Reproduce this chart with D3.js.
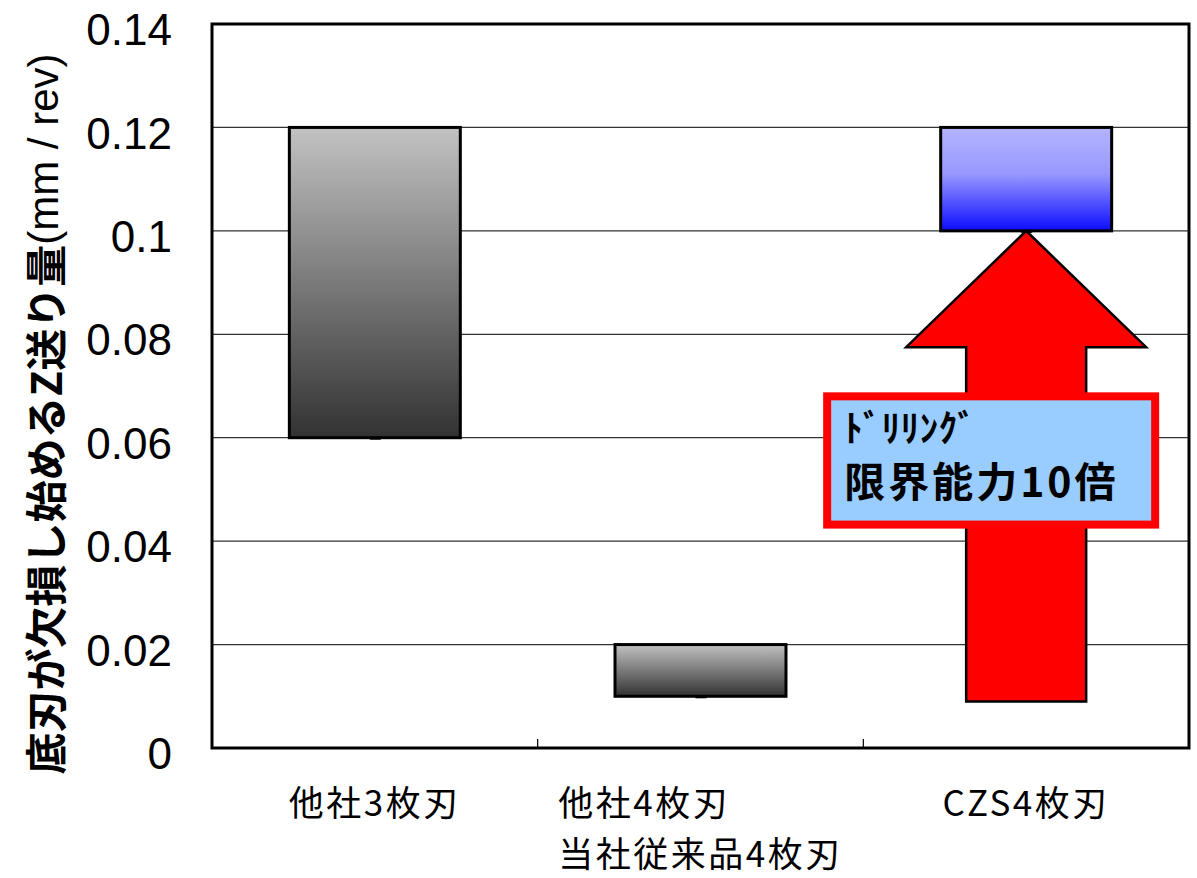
<!DOCTYPE html>
<html>
<head>
<meta charset="utf-8">
<script src="https://cdn.jsdelivr.net/npm/d3@7"></script>
<style>
    body { margin: 0; background: #fff; }
    svg  { display: block; }
</style>
</head>
<body>
<svg id="chart" width="1197" height="878"></svg>
<script>
/* **************************************************************** *
 *   Data
 * **************************************************************** */
const categories    = ['他社3枚刃', '他社4枚刃', 'CZS4枚刃'];
const categoryLines = [['他社3枚刃'], ['他社4枚刃', '当社従来品4枚刃'], ['CZS4枚刃']];
const lowValues     = [0.06, 0.01, 0.10];
const highValues    = [0.12, 0.02, 0.12];
const yTicks        = [0, 0.02, 0.04, 0.06, 0.08, 0.10, 0.12, 0.14];
const yTitleMain    = '底刃が欠損し始めるZ送り量';
const yTitleUnit    = '(mm / rev)';

// arrow: bottom, head base, tip (values on the y axis)
const arrowValues   = [0.009, 0.0775, 0.10];
const calloutLines  = ['ﾄﾞﾘﾘﾝｸﾞ', '限界能力10倍'];
const calloutRange  = [0.068, 0.0432];

/* **************************************************************** *
 *   Scale
 * **************************************************************** */
const frame = { left: 212, right: 1189, top: 24, bottom: 748 };

const x = d3.scaleBand()
    .domain(categories)
    .range([frame.left, frame.right])
    .padding(0);

const y = d3.scaleLinear()
    .domain([0, 0.14])
    .range([frame.bottom, frame.top]);

const svg = d3.select('#chart');
const defs = svg.append('defs');

let gradient = (id, stops) => {
    let g = defs.append('linearGradient')
        .attr('id', id)
        .attr('x1', 0).attr('y1', 0)
        .attr('x2', 0).attr('y2', 1);
    g.selectAll('stop')
        .data(stops)
        .enter()
        .append('stop')
        .attr('offset', (d) => d[0])
        .attr('stop-color', (d) => d[1]);
};
gradient('gray', [[0, '#c2c2c2'], [1, '#323232']]);
gradient('blue', [[0, '#b4b4ff'], [0.45, '#9898ff'], [1, '#0c0cff']]);
const fills = ['url(#gray)', 'url(#gray)', 'url(#blue)'];

/* **************************************************************** *
 *   Grid
 * **************************************************************** */
svg.append('g')
    .attr('class', 'grid')
    .selectAll('line')
    .data(yTicks.slice(1, -1))
    .enter()
    .append('line')
    .attr('x1', frame.left)
    .attr('x2', frame.right)
    .attr('y1', (d) => y(d))
    .attr('y2', (d) => y(d))
    .attr('stroke', '#333')
    .attr('stroke-width', 1.2);

/* **************************************************************** *
 *   Bars
 * **************************************************************** */
const barW = x.bandwidth() * 0.525;
const bars = categories.map((c, i) => ({
    code: c, low: lowValues[i], high: highValues[i], fill: fills[i]
}));

svg.append('g')
    .attr('class', 'bars')
    .selectAll('rect')
    .data(bars)
    .enter()
    .append('rect')
    .attr('x', (d) => x(d.code) + x.bandwidth() / 2 - barW / 2)
    .attr('y', (d) => y(d.high))
    .attr('width', barW)
    .attr('height', (d) => y(d.low) - y(d.high))
    .attr('fill', (d) => d.fill)
    .attr('stroke', '#000')
    .attr('stroke-width', 3);

// little marks left at the bar bottoms
svg.append('g')
    .selectAll('rect')
    .data(bars)
    .enter()
    .append('rect')
    .attr('x', (d) => x(d.code) + x.bandwidth() / 2 - 5)
    .attr('y', (d) => y(d.low) - 1)
    .attr('width', 11)
    .attr('height', 3)
    .attr('fill', '#000');

/* **************************************************************** *
 *   Arrow + callout
 * **************************************************************** */
const cx = x(categories[2]) + x.bandwidth() / 2;
const shaft = 60, head = 120;
const pt = (px, py) => px + ',' + py + ' ';

svg.append('polygon')
    .attr('points',
        pt(cx - shaft, y(arrowValues[0])) +
        pt(cx - shaft, y(arrowValues[1])) +
        pt(cx - head,  y(arrowValues[1])) +
        pt(cx,         y(arrowValues[2])) +
        pt(cx + head,  y(arrowValues[1])) +
        pt(cx + shaft, y(arrowValues[1])) +
        pt(cx + shaft, y(arrowValues[0])))
    .attr('fill', '#ff0000')
    .attr('stroke', '#000')
    .attr('stroke-width', 2.5)
    .attr('stroke-linejoin', 'miter');

const boxX = cx - 199, boxW = 328;
svg.append('rect')
    .attr('x', boxX)
    .attr('y', y(calloutRange[0]))
    .attr('width', boxW)
    .attr('height', y(calloutRange[1]) - y(calloutRange[0]))
    .attr('fill', '#99ccff')
    .attr('stroke', '#ff0000')
    .attr('stroke-width', 8);

svg.append('g')
    .selectAll('text')
    .data(calloutLines)
    .enter()
    .append('text')
    .attr('x', boxX + 17)
    .attr('y', (d, i) => y(calloutRange[0]) + (i == 0 ? 46 : 101))
    .attr('font-family', '"Noto Sans CJK JP", sans-serif')
    .attr('font-weight', 'bold')
    .attr('font-size', (d, i) => i == 0 ? 37 : 41)
    .attr('letter-spacing', (d, i) => i == 0 ? 0.5 : 3)
    .attr('fill', '#000')
    .text((d) => d);

/* **************************************************************** *
 *   Axes
 * **************************************************************** */
const yAxis = svg.append('g')
    .attr('transform', 'translate(' + frame.left + ',0)')
    .call(d3.axisLeft(y)
        .tickValues(yTicks)
        .tickSize(0)
        .tickPadding(40)
        .tickFormat((d) => String(+d.toFixed(2))));
yAxis.select('.domain').remove();
yAxis.selectAll('text')
    .attr('font-family', '"Liberation Sans", Arial, sans-serif')
    .attr('font-size', 44)
    .attr('fill', '#000')
    .attr('dy', '0.47em');

// category ticks pointing inward
svg.append('g')
    .selectAll('line')
    .data(categories.slice(1))
    .enter()
    .append('line')
    .attr('x1', (d) => x(d))
    .attr('x2', (d) => x(d))
    .attr('y1', frame.bottom)
    .attr('y2', frame.bottom - 9)
    .attr('stroke', '#000')
    .attr('stroke-width', 1.2);

// category labels: lines left aligned, block centred on the band
categoryLines.forEach((lines, i) => {
    let g = svg.append('g').attr('class', 'xlabel');
    let texts = g.selectAll('text')
        .data(lines)
        .enter()
        .append('text')
        .attr('y', (d, j) => 816 + j * 51)
        .attr('font-family', '"Noto Sans CJK JP", sans-serif')
        .attr('font-size', 35)
        .attr('letter-spacing', 2.5)
        .attr('fill', '#000')
        .text((d) => d);
    let w = d3.max(texts.nodes(), (n) => n.getComputedTextLength());
    let left = x(categories[i]) + x.bandwidth() / 2 - w / 2;
    texts.attr('x', left);
});

// frame
svg.append('rect')
    .attr('x', frame.left)
    .attr('y', frame.top)
    .attr('width', frame.right - frame.left)
    .attr('height', frame.bottom - frame.top)
    .attr('fill', 'none')
    .attr('stroke', '#000')
    .attr('stroke-width', 3);

// y title
const title = svg.append('text')
    .attr('transform', 'translate(43,' + 414 + ') rotate(-90)')
    .attr('text-anchor', 'middle')
    .attr('dominant-baseline', 'central')
    .attr('fill', '#000');
title.append('tspan')
    .attr('font-family', '"Noto Sans CJK JP", sans-serif')
    .attr('font-weight', 'bold')
    .attr('font-size', 42)
    .text(yTitleMain);
title.append('tspan')
    .attr('font-family', '"Liberation Sans", Arial, sans-serif')
    .attr('font-size', 42)
    .text(yTitleUnit);
</script>
</body>
</html>
